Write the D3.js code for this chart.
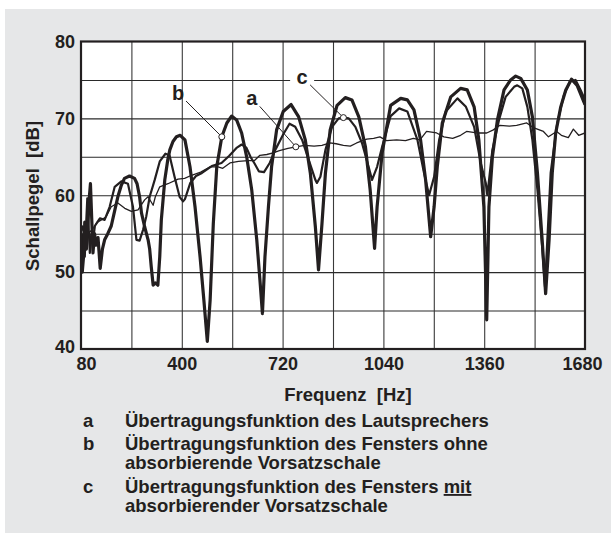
<!DOCTYPE html>
<html>
<head>
<meta charset="utf-8">
<script src="https://cdn.jsdelivr.net/npm/d3@7"></script>
<style>
  body { margin: 0; background: #fff; }
  svg text { font-family: "Liberation Sans", Arial, Helvetica, sans-serif; font-weight: bold; fill: #231f20; }
</style>
</head>
<body>
<div id="chart"></div>
<script>
// axis ticks
const xTicks = [80, 400, 720, 1040, 1360, 1680];
const yTicks = [40, 50, 60, 70, 80];

// a: Lautsprecher (thin)
const aHz = [80, 85, 90, 95, 100, 110, 120, 132, 145, 160, 176, 197, 219, 240, 261, 282, 293, 309, 316, 330, 356, 388, 409, 431, 460, 490, 515, 530, 553, 580, 610, 630, 648, 670, 690, 710, 737, 762, 790, 820, 845, 870, 890, 913, 935, 955, 987, 1009, 1029, 1050, 1082, 1110, 1135, 1156, 1177, 1209, 1232, 1260, 1285, 1304, 1336, 1368, 1389, 1410, 1440, 1463, 1495, 1516, 1548, 1564, 1590, 1605, 1627, 1643, 1660, 1680];
const aDb = [54.5, 56, 54.8, 55.5, 55, 55.3, 55.8, 56.5, 56.8, 57.2, 58.5, 59, 58.3, 57.9, 58.1, 59.4, 59.8, 58.7, 59.8, 61.1, 61.5, 62.1, 62.2, 62.6, 63, 63.7, 63.7, 63.5, 64.2, 64.4, 64.5, 64.5, 65.2, 65.3, 65.5, 65.8, 66.1, 66.3, 66.5, 66.4, 66.5, 66.8, 66.7, 66.5, 66.4, 66.8, 67.3, 67.4, 67.6, 67.1, 67.2, 67.1, 67.4, 67.2, 68.3, 68.1, 67.6, 67.4, 67.8, 68.3, 68.1, 68.1, 68.5, 69.1, 69.0, 69.1, 69.4, 68.8, 68.3, 67.6, 68.3, 67.8, 67.5, 68.6, 67.8, 68.1];

// b: Fenster ohne Vorsatzschale (thick)
const bHz = [80, 84, 88, 92, 97, 101, 106, 110, 114, 118, 123, 128, 134, 141, 148, 155, 165, 176, 187, 197, 208, 218, 234, 250, 258, 266, 272, 282, 293, 298, 303, 309, 316, 324, 330, 335, 346, 355, 362, 372, 383, 395, 410, 426, 442, 458, 470, 481, 490, 500, 511, 527, 543, 558, 574, 590, 606, 622, 638, 648, 656, 664, 675, 685, 701, 722, 747, 771, 792, 808, 824, 834, 845, 856, 871, 893, 919, 940, 962, 983, 998, 1012, 1020, 1036, 1063, 1095, 1116, 1137, 1158, 1174, 1190, 1201, 1211, 1227, 1254, 1285, 1306, 1328, 1343, 1359, 1368, 1375, 1386, 1402, 1423, 1444, 1460, 1476, 1497, 1513, 1529, 1544, 1555, 1566, 1576, 1587, 1603, 1619, 1637, 1655, 1680];
const bDb = [53.5, 50, 52, 56.5, 53, 55.5, 59.5, 61.5, 57, 52.5, 55, 53.5, 54.5, 50.5, 53, 54.2, 55, 56, 58, 59.8, 61.3, 62.2, 62.5, 62.2, 61.5, 59.8, 57.7, 55.9, 54.2, 53, 50.7, 48.3, 48.6, 48.3, 52, 56.8, 62, 64.5, 65.9, 67, 67.6, 67.8, 67.2, 63.7, 58.5, 52, 46.4, 41, 46.4, 56.3, 63.7, 67.6, 69.4, 70.3, 69.8, 68.1, 65, 60.7, 54.2, 49, 44.6, 52, 58.5, 63.7, 68.5, 70.9, 71.8, 70.2, 67.2, 62.9, 55.9, 50.3, 56.3, 62.9, 68.5, 71.7, 72.7, 72.4, 70.2, 66.3, 60.7, 53.1, 58.5, 65.5, 71.7, 72.6, 72.4, 71.1, 67.2, 62, 54.6, 58.5, 63.7, 69.4, 72.8, 73.9, 73.7, 71.5, 67.2, 58.5, 43.8, 58.5, 65, 69.8, 73.7, 75, 75.5, 75.2, 73.7, 70.2, 62.9, 54.2, 47.2, 54.2, 62.9, 68.1, 71.5, 73.7, 75.1, 74.3, 71.8];

// c: Fenster mit Vorsatzschale (medium)
const cHz = [80, 83, 87, 92, 96, 100, 104, 108, 113, 118, 124, 132, 140, 155, 171, 187, 208, 229, 245, 256, 266, 277, 287, 298, 314, 330, 348, 361, 377, 393, 404, 410, 427, 445, 464, 495, 526, 550, 575, 590, 605, 618, 630, 645, 661, 679, 698, 723, 742, 760, 782, 803, 824, 829, 840, 856, 877, 898, 914, 930, 951, 972, 993, 1004, 1020, 1036, 1063, 1090, 1116, 1148, 1169, 1185, 1201, 1217, 1238, 1275, 1302, 1328, 1349, 1365, 1370, 1386, 1407, 1428, 1455, 1465, 1481, 1497, 1513, 1529, 1544, 1553, 1571, 1592, 1613, 1632, 1650, 1666, 1680];
const cDb = [53, 51.5, 55, 52, 56, 59.6, 56, 52.5, 55, 54, 56, 56.5, 57, 56.8, 58.5, 61.1, 61.8, 61.5, 58.5, 54.2, 54.1, 55.5, 57.2, 59.8, 62, 64.4, 65.4, 65.2, 62.4, 59.8, 59.2, 59.5, 61.6, 62.5, 62.9, 63.8, 64.2, 65.1, 66.2, 66.6, 66.2, 65, 64.2, 63.1, 63, 64.2, 66, 68, 69.3, 68.9, 67.2, 64.6, 62, 61.6, 62.4, 65.9, 68.9, 70, 70.1, 70, 68.9, 66.8, 63.7, 62, 63.7, 66.3, 70.3, 71.3, 70.9, 67.2, 62.9, 60, 62.4, 67.2, 70.9, 72.6, 71.5, 68.9, 64.2, 61.6, 60, 65.9, 69.8, 72.8, 74.1, 74.3, 73.9, 71.5, 67.2, 60.7, 53.3, 48.1, 62.9, 69.4, 73, 74.8, 75, 73.7, 72.4];

// pointer labels
const labelNames = ["a", "b", "c"];
const markerHz = [762, 527, 913];
const markerDb = [66.3, 67.6, 70.1];
const labelHz = [622, 388, 782];
const labelDb = [72.6, 73.3, 75.4];

// legend rows
const legendKeys = ["a", "b", "", "c", ""];
const legendRows = [
  ["Übertragungsfunktion des Lautsprechers"],
  ["Übertragungsfunktion des Fensters ohne"],
  ["absorbierende Vorsatzschale"],
  ["Übertragungsfunktion des Fensters ", "mit"],
  ["absorbierender Vorsatzschale"]
];

const W = 611, H = 533;
const margin = {left: 81, top: 41.5, right: 26, bottom: 184};
const pw = W - margin.left - margin.right;
const ph = H - margin.top - margin.bottom;
const ink = "#231f20";

const svg = d3.select("#chart").append("svg")
    .attr("width", W)
    .attr("height", H);

// grey panel
svg.append("rect")
    .attr("x", 5).attr("y", 9)
    .attr("width", W - 5).attr("height", H - 9)
    .attr("fill", "#e6e7e8");

const x = d3.scaleLinear().domain([80, 1680]).range([0, pw]);
const y = d3.scaleLinear().domain([40, 80]).range([ph, 0]);

const g = svg.append("g").attr("transform", `translate(${margin.left},${margin.top})`);

g.append("rect").attr("width", pw).attr("height", ph).attr("fill", "#fff");

g.append("clipPath").attr("id", "clip")
    .append("rect").attr("width", pw).attr("height", ph);

// grid
g.append("g")
    .call(d3.axisBottom(x).tickValues(d3.range(240, 1680, 160)).tickSize(ph).tickFormat(""))
    .call(s => s.select(".domain").remove())
    .selectAll("line").attr("stroke", "#3a3a3a").attr("stroke-width", 1.1);

g.append("g")
    .call(d3.axisLeft(y).tickValues(d3.range(45, 80, 5)).tickSize(-pw).tickFormat(""))
    .call(s => s.select(".domain").remove())
    .selectAll("line").attr("stroke", "#2a2a2a").attr("stroke-width", 1.1);

// tick labels
const xAxis = g.append("g").attr("transform", `translate(0,${ph})`)
    .call(d3.axisBottom(x).tickValues(xTicks).tickSize(0).tickPadding(8).tickFormat(d3.format("d")));
xAxis.select(".domain").remove();
xAxis.selectAll("text")
    .attr("font-size", 18)
    .attr("dx", (d, i) => i === 0 ? 5 : (i === xTicks.length - 1 ? -3 : 0));

const yAxis = g.append("g")
    .call(d3.axisLeft(y).tickValues(yTicks).tickSize(0).tickPadding(6));
yAxis.select(".domain").remove();
yAxis.selectAll("text").attr("font-size", 18).attr("dy", (d) => d === 40 ? "0.2em" : "0.32em");

// curves
const line = d3.line().x(d => x(d[0])).y(d => y(d[1]));
const curves = [
  {hz: aHz, db: aDb, w: 1.3},
  {hz: cHz, db: cDb, w: 2.2},
  {hz: bHz, db: bDb, w: 3.2}
];
const cg = g.append("g").attr("clip-path", "url(#clip)");
curves.forEach(c => {
  cg.append("path")
      .datum(d3.zip(c.hz, c.db))
      .attr("d", line)
      .attr("fill", "none")
      .attr("stroke", ink)
      .attr("stroke-width", c.w)
      .attr("stroke-linejoin", "round");
});

// frame
g.append("rect").attr("width", pw).attr("height", ph)
    .attr("fill", "none").attr("stroke", ink).attr("stroke-width", 2.2);

// pointer labels
labelNames.forEach((n, i) => {
  const lx = x(labelHz[i]), ly = y(labelDb[i]);
  const mx = x(markerHz[i]), my = y(markerDb[i]);
  if (n === "c") {
    g.append("rect").attr("x", lx - 12).attr("y", ly - 9).attr("width", 24).attr("height", 18).attr("fill", "#fff");
  }
  g.append("line")
      .attr("x1", lx + 8).attr("y1", ly + 8)
      .attr("x2", mx).attr("y2", my)
      .attr("stroke", ink).attr("stroke-width", 1);
  g.append("circle").attr("cx", mx).attr("cy", my).attr("r", 3)
      .attr("fill", "#fff").attr("stroke", ink).attr("stroke-width", 1);
  g.append("text").attr("x", lx).attr("y", ly).attr("dy", "0.35em")
      .attr("text-anchor", "middle").attr("font-size", 20).text(n);
});

// axis titles
svg.append("text")
    .attr("transform", "translate(39,196) rotate(-90)")
    .attr("text-anchor", "middle").attr("font-size", 18.5)
    .text("Schallpegel\u00a0 [dB]");

svg.append("text")
    .attr("x", 348).attr("y", 401)
    .attr("text-anchor", "middle").attr("font-size", 18.5)
    .text("Frequenz\u00a0 [Hz]");

// legend
const rowY = [427, 450, 469, 493, 512];
legendRows.forEach((parts, i) => {
  svg.append("text").attr("x", 83).attr("y", rowY[i]).attr("font-size", 18.5).text(legendKeys[i]);
  const t = svg.append("text").attr("x", 125).attr("y", rowY[i]).attr("font-size", 18.5);
  parts.forEach((p, j) => {
    const sp = t.append("tspan").text(p);
    if (j === 1) sp.attr("text-decoration", "underline");
  });
});
</script>
</body>
</html>
